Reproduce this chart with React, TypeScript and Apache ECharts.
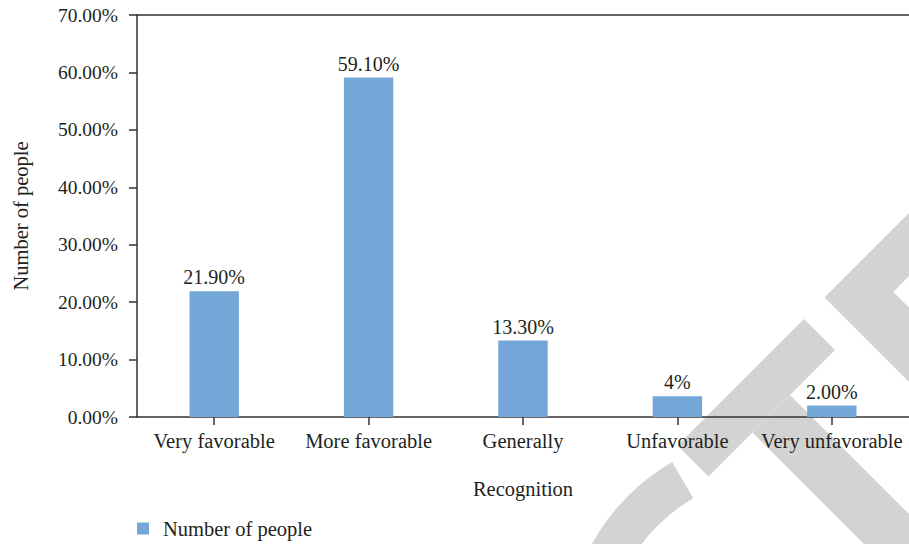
import React, { useEffect, useRef } from "react";
import * as echarts from "echarts";

const categories = ["Very favorable", "More favorable", "Generally", "Unfavorable", "Very unfavorable"];
const values = [21.9, 59.1, 13.3, 3.6, 2.0];
const barLabels = ["21.90%", "59.10%", "13.30%", "4%", "2.00%"];
const seriesName = "Number of people";
const yTicks = { min: 0, max: 70, interval: 10 };

const FONT = "Liberation Serif";
const TXT = "#231F20";
const BAR = "#74A6D7";
const WM = "#D3D3D3";

export default function App() {
  const ref = useRef<HTMLDivElement>(null);
  useEffect(() => {
    if (!ref.current) return;
    const chart = echarts.init(ref.current, undefined, { renderer: "svg" });
    chart.setOption({
      animation: false,
      backgroundColor: "#fff",
      textStyle: { fontFamily: FONT, color: TXT },
      grid: { left: 137, right: 0, top: 15, bottom: 127, containLabel: false },
      legend: {
        left: 132,
        top: 513,
        itemWidth: 12,
        itemHeight: 12,
        icon: "rect",
        data: [seriesName],
        textStyle: { fontFamily: FONT, fontSize: 20.5, color: TXT, padding: [0, 0, 0, 9] },
      },
      xAxis: [
        {
          type: "category",
          data: categories,
          name: "Recognition",
          nameLocation: "middle",
          nameGap: 61,
          nameTextStyle: { fontFamily: FONT, fontSize: 20.5, color: TXT },
          axisLine: { show: true, lineStyle: { color: "#333", width: 1.5 } },
          axisTick: { show: true, alignWithLabel: true, length: 8, lineStyle: { color: "#333", width: 1.5 } },
          axisLabel: { fontFamily: FONT, fontSize: 20.5, color: TXT, margin: 13, interval: 0 },
        },
        {
          type: "category",
          data: categories,
          position: "top",
          axisLine: { show: true, lineStyle: { color: "#333", width: 1.5 } },
          axisTick: { show: false },
          axisLabel: { show: false },
        },
      ],
      yAxis: {
        type: "value",
        min: yTicks.min,
        max: yTicks.max,
        interval: yTicks.interval,
        name: "Number of people",
        nameLocation: "middle",
        nameGap: 106,
        nameTextStyle: { fontFamily: FONT, fontSize: 20.5, color: TXT },
        axisLine: { show: true, lineStyle: { color: "#333", width: 1.5 } },
        axisTick: { show: true, length: 8, lineStyle: { color: "#333", width: 1.5 } },
        axisLabel: {
          fontFamily: FONT,
          fontSize: 19.5,
          color: TXT,
          margin: 19,
          formatter: (v: number) => v.toFixed(2) + "%",
        },
        splitLine: { show: false },
      },
      series: [
        {
          name: seriesName,
          type: "bar",
          data: values,
          barWidth: "32%",
          itemStyle: { color: BAR },
          label: {
            show: true,
            position: "top",
            distance: 4,
            fontFamily: FONT,
            fontSize: 20,
            color: TXT,
            formatter: (p: any) => barLabels[p.dataIndex],
          },
        },
      ],
      graphic: [
        {
          type: "polygon",
          z: -10,
          silent: true,
          shape: { points: [[824.5, 297.5], [1000, 122], [1063, 122], [893.3, 291.7], [1100, 498.3], [1100, 573]] },
          style: { fill: WM },
        },
        {
          type: "polygon",
          z: -10,
          silent: true,
          shape: { points: [[804, 319], [835, 350], [708.5, 476.5], [677.5, 445.5]] },
          style: { fill: WM },
        },
        {
          type: "polygon",
          z: -10,
          silent: true,
          shape: { points: [[790, 395], [995, 600], [920, 600], [752.5, 432.5]] },
          style: { fill: WM },
        },
        {
          type: "sector",
          z: -10,
          silent: true,
          shape: { cx: 780, cy: 648, r: 215, r0: 173, startAngle: -Math.PI, endAngle: -2.096, clockwise: true },
          style: { fill: WM },
        },
      ],
    });
    return () => chart.dispose();
  }, []);
  return <div ref={ref} style={{ width: 909, height: 544, position: "absolute", left: 0, top: 0 }} />;
}
